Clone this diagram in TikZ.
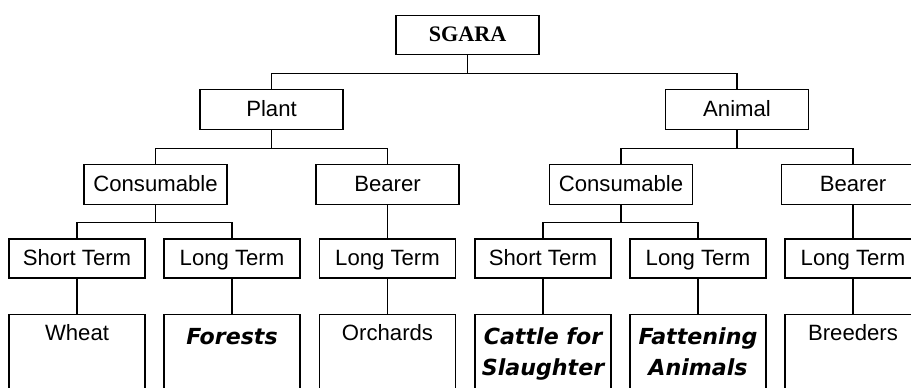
\documentclass[tikz,border=0pt]{standalone}
\usepackage{fontspec}
\setmainfont{Liberation Sans}
\newfontfamily\serifbold{Liberation Serif}
\newfontfamily\heavyfont{DejaVu Sans}

\begin{document}
\begin{tikzpicture}[x=0.02cm, y=-0.02cm, line width=0.7pt,
    font=\fontsize{12.6}{17.6}\selectfont,
    box/.style={draw, inner sep=0pt, minimum width=2.86cm, minimum height=0.79cm, text height=10pt, text depth=2.6pt},
    termbox/.style={draw, inner sep=0pt, minimum width=2.72cm, minimum height=0.78cm, text height=10pt, text depth=2.6pt},
    leafbox/.style={draw, inner sep=0pt, anchor=north, minimum width=2.72cm, align=center, text height=0.52cm, text depth=1.6cm},
    heavy/.style={leafbox, text height=0.6cm, font=\heavyfont\bfseries\itshape\fontsize{12.6}{17.6}\selectfont},
    heavytwo/.style={heavy, text height=1.22cm}]
          \useasboundingbox (0,0) rectangle (911,387);
          \clip (0,0) rectangle (911,387);

          \node[box, font=\serifbold\bfseries\fontsize{12.6}{15}\selectfont] (sgara) at (467.5,35) {SGARA};

          \node[box] (plant) at (271.5,109.5) {Plant};
          \node[box] (animal) at (737,109.5) {Animal};

          \node[box] (pcons) at (155.5,184.5) {Consumable};
          \node[box] (pbear) at (387.5,184.5) {Bearer};
          \node[box] (acons) at (621,184.5) {Consumable};
          \node[box] (abear) at (853,184.5) {Bearer};

          \node[termbox] (pshort) at (77,258.5) {Short Term};
          \node[termbox] (plong) at (232,258.5) {Long Term};
          \node[termbox] (pbearlong) at (387.5,258.5) {Long Term};
          \node[termbox] (ashort) at (543,258.5) {Short Term};
          \node[termbox] (along) at (698,258.5) {Long Term};
          \node[termbox] (abearlong) at (853,258.5) {Long Term};

          \node[leafbox] (wheat) at (77,314) {Wheat};
          \node[heavy] (forests) at (232,314) {Forests};
          \node[leafbox] (orchards) at (387.5,314) {Orchards};
          \node[heavytwo] (cattle) at (543,314) {Cattle for\\Slaughter};
          \node[heavytwo] (fattening) at (698,314) {Fattening\\Animals};
          \node[leafbox] (breeders) at (853,314) {Breeders};

          \draw (sgara.south) -- ++(0,18) -| (plant.north);
          \draw (sgara.south) -- ++(0,18) -| (animal.north);
          \draw (plant.south) -- ++(0,18.5) -| (pcons.north);
          \draw (plant.south) -- ++(0,18.5) -| (pbear.north);
          \draw (animal.south) -- ++(0,18.5) -| (acons.north);
          \draw (animal.south) -- ++(0,18.5) -| (abear.north);
          \draw (pcons.south) -- ++(0,17.5) -| (pshort.north);
          \draw (pcons.south) -- ++(0,17.5) -| (plong.north);
          \draw (acons.south) -- ++(0,17.5) -| (ashort.north);
          \draw (acons.south) -- ++(0,17.5) -| (along.north);
          \draw (pbear) -- (pbearlong);
          \draw (abear) -- (abearlong);

          \draw (pshort) -- (wheat);
          \draw (plong) -- (forests);
          \draw (pbearlong) -- (orchards);
          \draw (ashort) -- (cattle);
          \draw (along) -- (fattening);
          \draw (abearlong) -- (breeders);
        \end{tikzpicture}
\end{document}
